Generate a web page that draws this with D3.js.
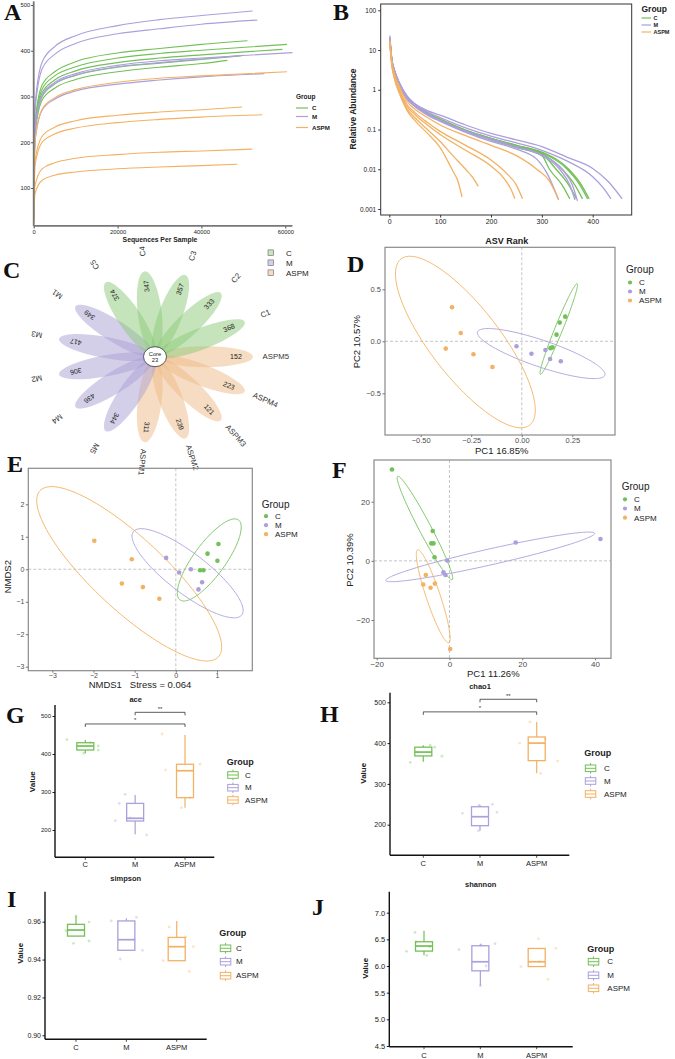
<!DOCTYPE html>
<html>
<head>
<meta charset="utf-8">
<script src="https://cdn.jsdelivr.net/npm/d3@7"></script>
<style>
  body { margin: 0; background: #fff; }
  svg { display: block; font-family: "Liberation Sans", Arial, sans-serif; }
  .letter { font-family: "Liberation Serif", "Times New Roman", serif; font-weight: bold; font-size: 24px; fill: #111; }
  .zero { stroke: #b8b8b8; stroke-width: 0.8; stroke-dasharray: 3,2; }
</style>
</head>
<body>
<svg id="fig" width="675" height="1059"></svg>
<script>
'use strict';
// multi panel microbiome figure (A-J)

var groups = ["C", "M", "ASPM"];
var groupColors = ["#72c057", "#ab9fdc", "#f3b162"];

// ---- A: rarefaction curves ----
var rareDepths = [0, 300, 2000, 5000, 10000, 20000, 30000, 40000];
var rareGroups = ["C","C","C","C","C","M","M","M","M","M","ASPM","ASPM","ASPM","ASPM","ASPM"];
var rareEndDepth = [51000, 60400, 59300, 49600, 46200, 52200, 53300, 61700, 50000, 55000, 60400, 49700, 54500, 52100, 48600];
// richness at rareDepths, last value at the end depth
var rareValues = [
  [42, 240, 325, 354, 376, 395, 405, 414, 422],
  [41, 236, 316, 345, 365, 384, 394, 401, 414],
  [40, 230, 308, 336, 356, 374, 384, 391, 403],
  [39, 222, 300, 327, 346, 364, 373, 381, 389],
  [38, 216, 292, 318, 337, 354, 364, 372, 379],
  [45, 278, 375, 409, 433, 455, 468, 477, 487],
  [44, 266, 360, 392, 416, 437, 448, 458, 467],
  [40, 226, 303, 331, 350, 368, 378, 384, 396],
  [39, 222, 300, 328, 347, 365, 374, 382, 390],
  [36, 200, 270, 294, 312, 327, 336, 343, 350],
  [36, 202, 272, 297, 315, 331, 340, 345, 354],
  [30, 158, 213, 233, 247, 259, 266, 271, 277],
  [28, 148, 200, 218, 231, 243, 250, 255, 260],
  [24, 105, 142, 155, 165, 173, 178, 181, 185],
  [22, 87, 117, 128, 135, 142, 146, 149, 152]
];
var rareXTicks = [0, 20000, 40000, 60000];
var rareYTicks = [100, 200, 300, 400, 500];

// ---- B: rank abundance ----
var rankGroups = ["C","C","C","C","C","M","M","M","M","M","ASPM","ASPM","ASPM","ASPM","ASPM"];
var rankCurves = [
  [[1,18],[5,5.5],[10,3],[20,1.4],[35,0.6],[50,0.4],[75,0.24],[100,0.17],[150,0.09],[200,0.055],[250,0.035],[300,0.022],[315,0.01],[340,0.004],[355,0.0018]],
  [[1,19],[5,5.6],[10,3],[20,1.4],[35,0.6],[50,0.4],[75,0.25],[100,0.17],[150,0.09],[200,0.056],[250,0.037],[300,0.024],[328,0.01],[353,0.004],[368,0.0018]],
  [[1,17],[5,5.4],[10,2.9],[20,1.35],[35,0.6],[50,0.41],[75,0.25],[100,0.18],[150,0.095],[200,0.058],[250,0.038],[300,0.025],[340,0.01],[365,0.004],[380,0.0018]],
  [[1,18],[5,5.5],[10,3],[20,1.4],[35,0.62],[50,0.42],[75,0.26],[100,0.18],[150,0.095],[200,0.06],[250,0.04],[300,0.026],[350,0.01],[375,0.004],[390,0.0018]],
  [[1,20],[5,5.7],[10,3.1],[20,1.45],[35,0.63],[50,0.42],[75,0.26],[100,0.18],[150,0.097],[200,0.06],[250,0.04],[300,0.027],[353,0.01],[378,0.004],[393,0.0018]],
  [[1,23],[5,6],[10,3.2],[20,1.5],[35,0.7],[50,0.45],[75,0.3],[100,0.23],[150,0.13],[200,0.08],[250,0.055],[300,0.037],[350,0.02],[400,0.0105],[430,0.005],[458,0.0018]],
  [[1,21],[5,5.8],[10,3.1],[20,1.45],[35,0.66],[50,0.43],[75,0.28],[100,0.2],[150,0.11],[200,0.068],[250,0.046],[300,0.03],[350,0.016],[400,0.0065],[420,0.0035],[436,0.0018]],
  [[1,18],[5,5.3],[10,2.9],[20,1.35],[35,0.58],[50,0.38],[75,0.23],[100,0.16],[150,0.085],[200,0.05],[250,0.032],[290,0.018],[310,0.008],[333,0.0017]],
  [[1,19],[5,5.4],[10,2.9],[20,1.35],[35,0.6],[50,0.4],[75,0.24],[100,0.17],[150,0.09],[200,0.055],[250,0.036],[300,0.022],[335,0.01],[355,0.004],[365,0.0017]],
  [[1,20],[5,5.5],[10,3],[20,1.4],[35,0.61],[50,0.41],[75,0.25],[100,0.17],[150,0.092],[200,0.057],[250,0.037],[300,0.023],[340,0.01],[360,0.004],[370,0.0016]],
  [[1,17],[5,5],[10,2.6],[20,1.2],[35,0.5],[50,0.33],[75,0.2],[100,0.13],[150,0.07],[200,0.04],[250,0.022],[290,0.01],[315,0.005],[333,0.0017]],
  [[1,17],[5,4.6],[10,2.3],[20,1],[35,0.42],[50,0.27],[75,0.15],[100,0.09],[150,0.04],[200,0.017],[230,0.008],[250,0.004],[262,0.0018]],
  [[1,16],[5,4.4],[10,2.2],[20,0.95],[35,0.38],[50,0.24],[75,0.13],[100,0.075],[150,0.03],[200,0.012],[225,0.006],[240,0.003],[247,0.0018]],
  [[1,16],[5,4.2],[10,2],[20,0.85],[35,0.33],[50,0.2],[75,0.1],[100,0.05],[125,0.022],[150,0.01],[165,0.006],[175,0.0037]],
  [[1,15],[5,4],[10,1.9],[20,0.8],[35,0.3],[50,0.17],[75,0.08],[100,0.035],[115,0.016],[125,0.009],[135,0.005],[143,0.002]]
];
var rankXTicks = [0, 100, 200, 300, 400];
var rankYTicks = [0.001, 0.01, 0.1, 1, 10, 100];

// ---- C: flower venn ----
var vennSamples = ["ASPM5","ASPM4","ASPM3","ASPM2","ASPM1","M5","M4","M2","M3","M1","C5","C4","C3","C2","C1"];
var vennGroups = ["ASPM","ASPM","ASPM","ASPM","ASPM","M","M","M","M","M","C","C","C","C","C"];
var vennCounts = [152, 223, 121, 239, 311, 344, 436, 306, 417, 349, 374, 347, 357, 333, 368];
var vennCore = 23;

// ---- D: PCoA ----
var pcoaC = [[0.215,0.237],[0.188,0.18],[0.172,0.064],[0.152,-0.058],[0.142,-0.066]];
var pcoaM = [[-0.026,-0.048],[0.048,-0.12],[0.117,-0.083],[0.14,-0.17],[0.193,-0.192]];
var pcoaA = [[-0.345,0.327],[-0.302,0.08],[-0.376,-0.07],[-0.239,-0.125],[-0.145,-0.247]];
// ellipse: centre x, y, half axis 1 (dx, dy), half axis 2 (dx, dy)
var pcoaEllC = [0.183, 0.118, 0.091, 0.436, 0.018, -0.014];
var pcoaEllM = [0.096, -0.118, 0.315, -0.208, 0.021, 0.121];
var pcoaEllA = [-0.279, -0.007, 0.318, -0.799, 0.136, 0.204];

// ---- E: NMDS ----
var nmdsC = [[1.035,0.78],[0.77,0.48],[1.01,0.26],[0.59,-0.03],[0.67,-0.03]];
var nmdsM = [[-0.235,0.35],[0.08,-0.1],[0.364,0.0],[0.638,-0.4],[0.55,-0.62]];
var nmdsA = [[-1.98,0.88],[-1.07,0.31],[-1.31,-0.44],[-0.8,-0.55],[-0.4,-0.91]];
var nmdsEllC = [0.813, 0.286, 0.709, 1.231, 0.313, -0.289];
var nmdsEllM = [0.286, -0.123, 1.316, -1.283, 0.296, 0.487];
var nmdsEllA = [-1.133, -0.14, 2.165, -2.56, 0.597, 0.809];

// ---- F: PCA ----
var pcaC = [[-15.8,30.9],[-4.6,10.1],[-5.0,5.9],[-4.4,5.9],[-4.1,1.2]];
var pcaM = [[41.5,7.4],[18.2,6.2],[-0.6,0.1],[-1.65,-3.9],[-1.1,-4.8]];
var pcaA = [[-6.5,-4.8],[-7.2,-8.0],[-5.2,-9.1],[-4.0,-7.7],[0.2,-29.8]];
var pcaEllC = [-6.74, 11.1, 7.49, -17.48, 1.46, 0.94];
var pcaEllM = [11.2, 1.34, 28.7, 7.97, 0.49, -2.62];
var pcaEllA = [-4.46, -12.0, 4.27, -15.7, 1.83, 0.74];

// ---- G-J: alpha diversity boxes [lower whisker, q1, median, q3, upper whisker] ----
var aceStats = [[402, 410.5, 421, 429.7, 437], [188.6, 223.7, 230.8, 270, 292], [258.7, 285, 356, 373, 450]];
var acePoints = [
  [[-0.37,438],[0.26,421],[0.26,410],[-0.03,402],[0.1,430]],
  [[-0.2,294],[-0.32,270],[-0.4,224.5],[0.23,187],[-0.1,232]],
  [[-0.46,452.6],[-0.39,358],[-0.07,258.7],[0.1,285],[0.3,373]]
];
var chaoStats = [[354.5, 368.5, 378, 390, 395], [185, 197.6, 219.6, 244, 248], [326, 357, 400, 415, 452]];
var chaoPoints = [
  [[-0.23,353],[0.2,390],[-0.1,378],[0.12,395],[0.33,368]],
  [[-0.31,228],[0.22,250],[0.3,230.4],[-0.03,185],[-0.02,248]],
  [[0.37,356],[0.07,326],[-0.12,452],[0.15,410],[-0.3,400]]
];
var simpsonStats = [[0.9524, 0.9524, 0.9556, 0.9586, 0.963], [0.9449, 0.9449, 0.9505, 0.9604, 0.9618], [0.9394, 0.9394, 0.9468, 0.9517, 0.9604]];
var simpsonPoints = [
  [[-0.2,0.9553],[0.26,0.9598],[-0.05,0.9486],[0.26,0.9498],[0,0.963]],
  [[-0.3,0.9604],[0.2,0.9623],[-0.12,0.9403],[0.32,0.9449],[0.16,0.9505]],
  [[-0.15,0.9572],[-0.27,0.9394],[0.33,0.9468],[0.25,0.9337],[0.18,0.952]]
];
var shannonStats = [[6.2, 6.28, 6.375, 6.455, 6.66], [5.63, 5.91, 6.08, 6.38, 6.42], [5.99, 5.99, 6.08, 6.33, 6.33]];
var shannonPoints = [
  [[-0.16,6.63],[-0.14,6.455],[-0.31,6.275],[0.05,6.2],[0.1,6.36]],
  [[-0.38,6.31],[0.26,6.42],[0.02,6.39],[0,5.63],[0.1,6.0]],
  [[0.03,6.51],[0.34,6.33],[-0.28,5.99],[0.2,5.75],[0.05,6.08]]
];

var color = d3.scaleOrdinal().domain(groups).range(groupColors);
var svg = d3.select("#fig");
svg.append("rect").attr("width", 675).attr("height", 1059).attr("fill", "#fff");

function letter(t, x, y) {
  svg.append("text").attr("class", "letter").attr("x", x).attr("y", y).text(t);
}

function txt(g, s, x, y, size, opts) {
  opts = opts || {};
  var t = g.append("text").attr("x", x).attr("y", y).attr("font-size", size)
    .attr("fill", opts.fill || "#222").attr("text-anchor", opts.anchor || "start").text(s);
  if (opts.bold) t.attr("font-weight", "bold");
  if (opts.rotate) t.attr("transform", "rotate(" + opts.rotate + "," + x + "," + y + ")");
  return t;
}

function styleAxis(sel, size, col, tickCol) {
  sel.select(".domain").remove();
  sel.selectAll(".tick line").attr("stroke", tickCol || "#555");
  sel.selectAll(".tick text").attr("font-size", size).attr("fill", col || "#222")
    .attr("font-family", "Liberation Sans, Arial, sans-serif");
}

// ================= A =================
(function() {
  var x = d3.scaleLinear().domain([0, 60000]).range([33.7, 285.3]);
  var y = d3.scaleLinear().domain([100, 500]).range([188, 5]);
  var g = svg.append("g");
  var line = d3.line().x(function(d) { return x(d[0]); }).y(function(d) { return y(d[1]); }).curve(d3.curveMonotoneX);
  rareValues.forEach(function(vals, i) {
    var pts = rareDepths.map(function(d, j) { return [d, vals[j]]; });
    pts.push([rareEndDepth[i], vals[vals.length - 1]]);
    g.append("path").attr("d", line(pts)).attr("fill", "none")
      .attr("stroke", color(rareGroups[i])).attr("stroke-width", 1.1);
  });
  var ay = g.append("g").attr("transform", "translate(" + x(0) + ",0)")
    .call(d3.axisLeft(y).tickValues(rareYTicks).tickSize(2.5).tickPadding(1));
  styleAxis(ay, 5.8, "#222", "#444");
  var ax = g.append("g").attr("transform", "translate(0," + y(17) + ")")
    .call(d3.axisBottom(x).tickValues(rareXTicks).tickFormat(d3.format("d")).tickSize(2.5).tickPadding(1));
  styleAxis(ax, 5.8, "#222", "#444");
  g.append("line").attr("x1", x(0)).attr("x2", x(0)).attr("y1", y(508)).attr("y2", y(17))
    .attr("stroke", "#777").attr("stroke-width", 1.8);
  g.append("line").attr("x1", x(0)).attr("x2", x(61700)).attr("y1", y(17)).attr("y2", y(17))
    .attr("stroke", "#777").attr("stroke-width", 1.8);
  txt(g, "Sequences Per Sample", 160, 242, 6.8, {bold: true, anchor: "middle"});
  // legend
  txt(g, "Group", 296, 99, 6.5, {bold: true});
  groups.forEach(function(gr, i) {
    var yy = [108, 116.5, 127.5][i];
    g.append("line").attr("x1", 296).attr("x2", 308).attr("y1", yy).attr("y2", yy)
      .attr("stroke", color(gr)).attr("stroke-width", 1.2);
    txt(g, gr, 312, yy + 2.2, 6.2, {bold: true});
  });
})();

// ================= B =================
(function() {
  var x = d3.scaleLinear().domain([0, 400]).range([389.3, 592.7]);
  var y = d3.scaleLog().domain([0.001, 100]).range([209, 10.3]);
  var g = svg.append("g");
  g.append("rect").attr("x", 380.7).attr("y", 4).attr("width", 251).attr("height", 211)
    .attr("fill", "none").attr("stroke", "#333").attr("stroke-width", 1);
  var line = d3.line().x(function(d) { return x(d[0]); }).y(function(d) { return y(d[1]); }).curve(d3.curveMonotoneX);
  rankCurves.forEach(function(pts, i) {
    g.append("path").attr("d", line(pts)).attr("fill", "none")
      .attr("stroke", color(rankGroups[i])).attr("stroke-width", 1.3);
  });
  var ay = g.append("g").attr("transform", "translate(380.7,0)")
    .call(d3.axisLeft(y).tickValues(rankYTicks).tickFormat(d3.format("~g")).tickSize(2.5).tickPadding(2));
  styleAxis(ay, 6.5, "#222", "#333");
  var ax = g.append("g").attr("transform", "translate(0,215)")
    .call(d3.axisBottom(x).tickValues(rankXTicks).tickSize(2.5).tickPadding(2));
  styleAxis(ax, 7, "#222", "#333");
  txt(g, "Relative Abundance", 355.5, 109, 8.5, {bold: true, anchor: "middle", rotate: -90});
  txt(g, "ASV Rank", 506.7, 244, 9, {bold: true, anchor: "middle"});
  txt(g, "Group", 641.5, 12, 8.5, {bold: true});
  groups.forEach(function(gr, i) {
    var yy = [18, 25, 32][i];
    g.append("line").attr("x1", 641.5).attr("x2", 651).attr("y1", yy).attr("y2", yy)
      .attr("stroke", color(gr)).attr("stroke-width", 1.2);
    txt(g, gr, 653.5, yy + 2, 5.5, {bold: true});
  });
})();

// ================= C =================
(function() {
  var cx = 155, cy = 356.7, sx = 1.14;
  var ang = d3.scaleLinear().domain([0, vennSamples.length]).range([0, 360]);
  var petalFill = d3.scaleOrdinal().domain(groups).range(["#8bc977", "#a99fd3", "#edb987"]);
  var g = svg.append("g");
  var pg = g.append("g").attr("transform", "translate(" + cx + "," + cy + ") scale(" + sx + ",1)");
  vennSamples.forEach(function(s, i) {
    pg.append("ellipse").attr("cx", 44).attr("cy", 0).attr("rx", 42).attr("ry", 10.5)
      .attr("transform", "rotate(" + ang(i) + ")")
      .attr("fill", petalFill(vennGroups[i])).attr("fill-opacity", 0.5);
  });
  vennSamples.forEach(function(s, i) {
    var a = ang(i) * Math.PI / 180;
    var nx = cx + sx * 71 * Math.cos(a), ny = cy + 71 * Math.sin(a);
    g.append("text").attr("transform", "translate(" + nx + "," + ny + ") rotate(" + ang(i) + ")")
      .attr("text-anchor", "middle").attr("dy", "0.35em").attr("font-size", 7).attr("fill", "#222")
      .text(vennCounts[i]);
    var lx = cx + sx * 106 * Math.cos(a), ly = cy + 106 * Math.sin(a);
    g.append("text").attr("transform", "translate(" + lx + "," + ly + ") rotate(" + ang(i) + ")")
      .attr("text-anchor", "middle").attr("dy", "0.35em").attr("font-size", 7.8).attr("fill", "#333")
      .text(s);
  });
  g.append("ellipse").attr("cx", cx).attr("cy", cy).attr("rx", 11.5).attr("ry", 10)
    .attr("fill", "#fff").attr("stroke", "#333").attr("stroke-width", 0.8);
  txt(g, "Core", cx, cy - 1.2, 5.8, {anchor: "middle"});
  txt(g, vennCore, cx, cy + 5.5, 5.8, {anchor: "middle"});
  var legFill = d3.scaleOrdinal().domain(groups).range(["#c6e5bc", "#d5d0ea", "#f6dcc4"]);
  groups.forEach(function(gr, i) {
    var yy = [252.7, 262.7, 272.7][i];
    g.append("rect").attr("x", 268).attr("y", yy - 2.8).attr("width", 5.6).attr("height", 5.6)
      .attr("fill", legFill(gr)).attr("stroke", "#666").attr("stroke-width", 0.6);
    txt(g, gr, 286, yy + 2.8, 8);
  });
})();

// ================= D / E / F =================
function ordPanel(o) {
  var x = d3.scaleLinear().domain(o.xDom).range(o.xRng);
  var y = d3.scaleLinear().domain(o.yDom).range(o.yRng);
  var f = o.frame;
  var g = svg.append("g");
  g.append("clipPath").attr("id", "clip" + o.id).append("rect")
    .attr("x", f[0]).attr("y", f[1]).attr("width", f[2] - f[0]).attr("height", f[3] - f[1]);
  var inner = g.append("g").attr("clip-path", "url(#clip" + o.id + ")");
  inner.append("line").attr("class", "zero").attr("x1", x(0)).attr("x2", x(0)).attr("y1", f[1]).attr("y2", f[3]);
  inner.append("line").attr("class", "zero").attr("x1", f[0]).attr("x2", f[2]).attr("y1", y(0)).attr("y2", y(0));
  var ell = d3.line().curve(d3.curveLinearClosed);
  var ts = d3.range(0, 2 * Math.PI, Math.PI / 90);
  o.ellipses.forEach(function(e, i) {
    var pts = ts.map(function(t) {
      return [x(e[0] + e[2] * Math.cos(t) + e[4] * Math.sin(t)), y(e[1] + e[3] * Math.cos(t) + e[5] * Math.sin(t))];
    });
    inner.append("path").attr("d", ell(pts)).attr("fill", "none")
      .attr("stroke", color(groups[i])).attr("stroke-width", 0.9);
  });
  o.points.forEach(function(pts, i) {
    g.selectAll(null).data(pts).enter().append("circle")
      .attr("cx", function(d) { return x(d[0]); }).attr("cy", function(d) { return y(d[1]); })
      .attr("r", 2.3).attr("fill", color(groups[i]));
  });
  g.append("rect").attr("x", f[0]).attr("y", f[1]).attr("width", f[2] - f[0]).attr("height", f[3] - f[1])
    .attr("fill", "none").attr("stroke", "#8a8a8a").attr("stroke-width", 1.2);
  var ax = g.append("g").attr("transform", "translate(0," + f[3] + ")")
    .call(d3.axisBottom(x).tickValues(o.xTicks).tickFormat(o.xFmt).tickSize(2).tickPadding(o.xPad));
  styleAxis(ax, o.tickSize, "#4d4d4d", "#777");
  var ay = g.append("g").attr("transform", "translate(" + f[0] + ",0)")
    .call(d3.axisLeft(y).tickValues(o.yTicks).tickFormat(o.yFmt).tickSize(2.5).tickPadding(1.5));
  styleAxis(ay, o.tickSize, "#4d4d4d", "#777");
  txt(g, o.xTitle, o.xTitlePos[0], o.xTitlePos[1], 9.5, {anchor: "middle"});
  txt(g, o.yTitle, o.yTitlePos[0], o.yTitlePos[1], 9.5, {anchor: "middle", rotate: -90});
  var L = o.legend;
  txt(g, "Group", L[0], L[1], 10);
  groups.forEach(function(gr, i) {
    g.append("circle").attr("cx", L[2]).attr("cy", L[3 + i]).attr("r", 2.1).attr("fill", color(gr));
    txt(g, gr, L[2] + 9, L[3 + i] + 2.8, 8);
  });
}

ordPanel({
  id: "D", frame: [385, 247.3, 615, 435],
  xDom: [-0.5, 0.25], xRng: [420.7, 572.3], yDom: [-0.5, 0.5], yRng: [393.3, 289.3],
  xTicks: [-0.5, -0.25, 0, 0.25], xFmt: d3.format(".2f"), xPad: 0.5,
  yTicks: [-0.5, 0, 0.5], yFmt: d3.format(".1f"), tickSize: 7.5,
  points: [pcoaC, pcoaM, pcoaA], ellipses: [pcoaEllC, pcoaEllM, pcoaEllA],
  xTitle: "PC1 16.85%", xTitlePos: [501.7, 453.5], yTitle: "PC2 10.57%", yTitlePos: [360, 341.7],
  legend: [626, 273, 630, 282.5, 291.5, 300.5]
});

ordPanel({
  id: "E", frame: [28.3, 468.3, 252.3, 670.7],
  xDom: [-3, 1], xRng: [52.3, 217], yDom: [-3, 2], yRng: [666.7, 504.3],
  xTicks: [-3, -2, -1, 0, 1], xFmt: d3.format("d"), xPad: 0.5,
  yTicks: [-3, -2, -1, 0, 1, 2], yFmt: d3.format("d"), tickSize: 7,
  points: [nmdsC, nmdsM, nmdsA], ellipses: [nmdsEllC, nmdsEllM, nmdsEllA],
  xTitle: "NMDS1\u00a0\u00a0\u00a0Stress = 0.064", xTitlePos: [140, 688], yTitle: "NMDS2", yTitlePos: [11, 576.7],
  legend: [261.7, 507.5, 266, 516.2, 525.2, 534.2]
});

ordPanel({
  id: "F", frame: [374, 460, 611, 658.3],
  xDom: [-20, 40], xRng: [376.7, 595], yDom: [-20, 20], yRng: [620, 501.7],
  xTicks: [-20, 0, 20, 40], xFmt: d3.format("d"), xPad: 1,
  yTicks: [-20, 0, 20], yFmt: d3.format("d"), tickSize: 8,
  points: [pcaC, pcaM, pcaA], ellipses: [pcaEllC, pcaEllM, pcaEllA],
  xTitle: "PC1 11.26%", xTitlePos: [493.3, 676.5], yTitle: "PC2 10.39%", yTitlePos: [353, 560],
  legend: [621.7, 490, 625, 499.3, 508.5, 517.7]
});

// ================= G / H / I / J =================
function boxPanel(o) {
  var y = d3.scaleLinear().domain(o.yDom).range(o.yRng);
  var x = d3.scalePoint().domain(groups).range(o.xRng);
  var step = x.step();
  var bw = 17;
  var g = svg.append("g");
  o.points.forEach(function(pts, i) {
    g.selectAll(null).data(pts).enter().append("circle")
      .attr("cx", function(d) { return x(groups[i]) + d[0] * step; })
      .attr("cy", function(d) { return y(d[1]); })
      .attr("r", 1.4).attr("fill", color(groups[i])).attr("opacity", 0.35);
  });
  o.stats.forEach(function(s, i) {
    var cx = x(groups[i]), c = color(groups[i]);
    g.append("line").attr("x1", cx).attr("x2", cx).attr("y1", y(s[0])).attr("y2", y(s[1]))
      .attr("stroke", c).attr("stroke-width", 1.2);
    g.append("line").attr("x1", cx).attr("x2", cx).attr("y1", y(s[3])).attr("y2", y(s[4]))
      .attr("stroke", c).attr("stroke-width", 1.2);
    g.append("rect").attr("x", cx - bw / 2).attr("y", y(s[3])).attr("width", bw).attr("height", y(s[1]) - y(s[3]))
      .attr("fill", "none").attr("stroke", c).attr("stroke-width", 1.3);
    g.append("line").attr("x1", cx - bw / 2).attr("x2", cx + bw / 2).attr("y1", y(s[2])).attr("y2", y(s[2]))
      .attr("stroke", c).attr("stroke-width", 1.7);
  });
  var A = o.axis; // x position, top, bottom, right end
  var ay = g.append("g").attr("transform", "translate(" + A[0] + ",0)")
    .call(d3.axisLeft(y).tickValues(o.yTicks).tickFormat(o.yFmt).tickSize(2.5).tickPadding(1.5));
  styleAxis(ay, o.tickSize, "#222", "#222");
  g.append("line").attr("x1", A[0]).attr("x2", A[0]).attr("y1", A[1]).attr("y2", A[2])
    .attr("stroke", "#111").attr("stroke-width", 1.4);
  g.append("line").attr("x1", A[0]).attr("x2", A[3]).attr("y1", A[2]).attr("y2", A[2])
    .attr("stroke", "#111").attr("stroke-width", 1.4);
  groups.forEach(function(gr) {
    g.append("line").attr("x1", x(gr)).attr("x2", x(gr)).attr("y1", A[2]).attr("y2", A[2] + 2.5)
      .attr("stroke", "#222").attr("stroke-width", 0.8);
    txt(g, gr, x(gr), o.xLabelY, 7.5, {anchor: "middle"});
  });
  txt(g, o.title, o.titlePos[0], o.titlePos[1], 7.5, {bold: true, anchor: "middle"});
  txt(g, "Value", o.valuePos[0], o.valuePos[1], 8, {bold: true, anchor: "middle", rotate: -90});
  (o.brackets || []).forEach(function(b) {
    var x1 = x(b[0]), x2 = x(b[1]), yy = y(b[2]);
    g.append("path").attr("d", "M" + x1 + "," + (yy + 3) + "V" + yy + "H" + x2 + "V" + (yy + 3))
      .attr("fill", "none").attr("stroke", "#333").attr("stroke-width", 0.8);
    txt(g, b[3], (x1 + x2) / 2, yy - 1.5, 6, {anchor: "middle", fill: "#333"});
  });
  var L = o.legend;
  txt(g, "Group", L[0], L[1], 9, {bold: true});
  groups.forEach(function(gr, i) {
    var yy = L[3 + i], c = color(gr), lx = L[0] + 1;
    g.append("rect").attr("x", lx).attr("y", yy - 3.3).attr("width", 10.5).attr("height", 6.6)
      .attr("fill", "#fff").attr("stroke", c).attr("stroke-width", 1);
    g.append("line").attr("x1", lx).attr("x2", lx + 10.5).attr("y1", yy).attr("y2", yy).attr("stroke", c).attr("stroke-width", 1);
    g.append("line").attr("x1", lx + 5.25).attr("x2", lx + 5.25).attr("y1", yy - 5.3).attr("y2", yy - 3.3).attr("stroke", c);
    g.append("line").attr("x1", lx + 5.25).attr("x2", lx + 5.25).attr("y1", yy + 3.3).attr("y2", yy + 5.3).attr("stroke", c);
    txt(g, gr, L[2], yy + 2.7, 8);
  });
}

boxPanel({
  yDom: [200, 500], yRng: [830, 716], xRng: [85.3, 185],
  yTicks: [200, 300, 400, 500], yFmt: d3.format("d"), tickSize: 6,
  axis: [55, 705, 857.3, 214.3], xLabelY: 867,
  stats: aceStats, points: acePoints,
  title: "ace", titlePos: [135.7, 701.5], valuePos: [35.5, 781.7],
  brackets: [["M", "ASPM", 509.7, "**"], ["C", "ASPM", 479, "*"]],
  legend: [226.7, 764.5, 245, 775, 787.7, 800]
});

boxPanel({
  yDom: [200, 500], yRng: [824.7, 702.3], xRng: [423.3, 536.7],
  yTicks: [200, 300, 400, 500], yFmt: d3.format("d"), tickSize: 7,
  axis: [390, 692.7, 855.3, 569.3], xLabelY: 866,
  stats: chaoStats, points: chaoPoints,
  title: "chao1", titlePos: [480, 688.5], valuePos: [366.5, 773.3],
  brackets: [["M", "ASPM", 507.4, "**"], ["C", "ASPM", 476.5, "*"]],
  legend: [584.3, 756, 604, 768.3, 781, 794]
});

boxPanel({
  yDom: [0.90, 0.96], yRng: [1035.3, 921.7], xRng: [76, 176.7],
  yTicks: [0.90, 0.92, 0.94, 0.96], yFmt: d3.format(".2f"), tickSize: 7,
  axis: [45, 891.7, 1039.3, 206.7], xLabelY: 1050,
  stats: simpsonStats, points: simpsonPoints,
  title: "simpson", titlePos: [125.7, 880.5], valuePos: [23, 953.3],
  legend: [219.3, 935.5, 236, 948.3, 961.7, 975.7]
});

boxPanel({
  yDom: [4.5, 7.0], yRng: [1046, 912.7], xRng: [424, 536.7],
  yTicks: [4.5, 5.0, 5.5, 6.0, 6.5, 7.0], yFmt: d3.format(".1f"), tickSize: 7.5,
  axis: [389.3, 891.7, 1046.7, 572.7], xLabelY: 1058,
  stats: shannonStats, points: shannonPoints,
  title: "shannon", titlePos: [480.7, 886.5], valuePos: [368.5, 968.3],
  legend: [587.3, 951.5, 607.3, 961.7, 975.3, 988.3]
});

letter("A", 4, 20);
letter("B", 333, 20);
letter("C", 3, 278);
letter("D", 347, 272);
letter("E", 7, 471.5);
letter("F", 332, 478);
letter("G", 6, 723);
letter("H", 320, 722);
letter("I", 7, 907);
letter("J", 312, 915);
</script>
</body>
</html>
